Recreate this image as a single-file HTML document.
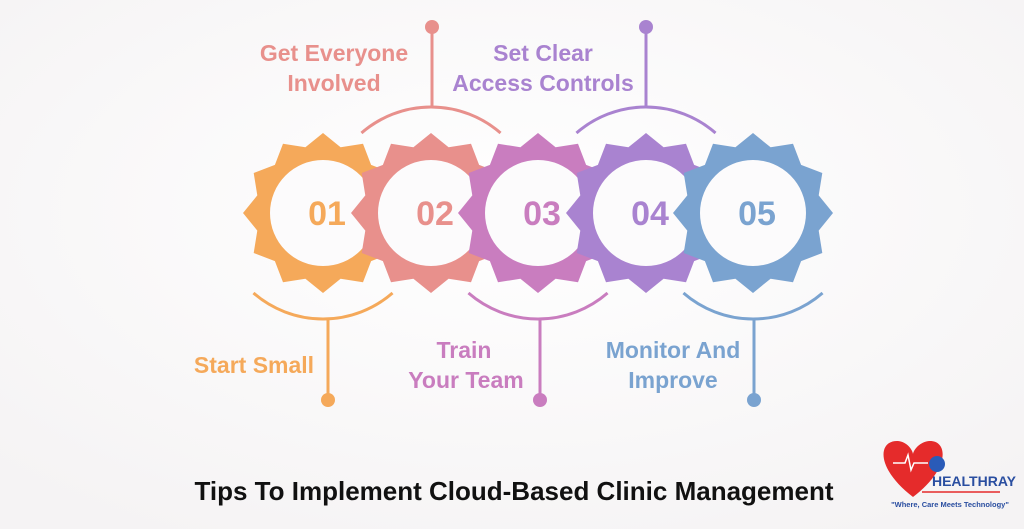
<!DOCTYPE html>
<html><head><style>
html,body{margin:0;padding:0;background:#fbfafb;}
body{width:1024px;height:529px;overflow:hidden;position:relative;font-family:"Liberation Sans",sans-serif;}
</style></head><body>
<svg id="s" width="1024" height="529" viewBox="0 0 1024 529" xmlns="http://www.w3.org/2000/svg" style="position:absolute;left:0;top:0">
<defs>
<radialGradient id="bg" cx="0.5" cy="0.4" r="0.7"><stop offset="0" stop-color="#ffffff"/><stop offset="1" stop-color="#f5f3f4"/></radialGradient>
</defs>
<rect width="1024" height="529" fill="url(#bg)"/>
<g id="arcs" fill="none" stroke-width="3"></g>
<g id="gears"></g>
<g font-weight="bold" font-size="23" text-anchor="middle">
<text x="334" y="61" fill="#e8908c">Get Everyone</text>
<text x="334" y="91" fill="#e8908c">Involved</text>
<text x="543" y="61" fill="#a983d0">Set Clear</text>
<text x="543" y="91" fill="#a983d0">Access Controls</text>
<text x="254" y="373" fill="#f5a95a">Start Small</text>
<text x="464" y="358" fill="#c97dbf">Train</text>
<text x="466" y="388" fill="#c97dbf">Your Team</text>
<text x="673" y="358" fill="#7aa3d0">Monitor And</text>
<text x="673" y="388" fill="#7aa3d0">Improve</text>
</g>
<text x="514" y="500" text-anchor="middle" font-weight="bold" font-size="26" fill="#111">Tips To Implement Cloud-Based Clinic Management</text>
<g>
<path d="M913 497 C 875 468, 878 440, 898 441 C 907 442, 912 449, 913 454 C 914 449, 920 442, 929 441 C 948 440, 951 468, 913 497 Z" fill="#e52b2b"/>
<circle cx="937" cy="464" r="8" fill="#2a5bb8"/>
<polyline points="893,463 905,463 908,455 911,470 914,463 928,463" fill="none" stroke="#fff" stroke-width="1.5"/>
<text x="974" y="486" text-anchor="middle" font-weight="bold" font-size="14" fill="#2a4ea0">HEALTHRAY</text>
<line x1="922" y1="492" x2="1000" y2="492" stroke="#e52b2b" stroke-width="1.5"/>
<text x="950" y="507" text-anchor="middle" font-weight="bold" font-size="7.5" fill="#2a4ea0">"Where, Care Meets Technology"</text>
</g>
</svg>
<script>
var cols=["#f5a95a","#e8908c","#c97dbf","#a983d0","#7aa3d0"];
var cx=[323,431,538,646,753],lx=[328,432,540,646,754],cy=213;
var g=document.getElementById("gears"),a=document.getElementById("arcs");
var ns="http://www.w3.org/2000/svg";
for(var i=0;i<5;i++){
 var pts=[];
 for(var k=0;k<24;k++){var ang=(k*15-90)*Math.PI/180;var r=k%2?68:80;pts.push((cx[i]+r*Math.cos(ang)).toFixed(1)+","+(cy+r*Math.sin(ang)).toFixed(1));}
 var p=document.createElementNS(ns,"polygon");p.setAttribute("points",pts.join(" "));p.setAttribute("fill",cols[i]);g.appendChild(p);
 var c=document.createElementNS(ns,"circle");c.setAttribute("cx",cx[i]);c.setAttribute("cy",cy);c.setAttribute("r",53);c.setAttribute("fill","#fcfbfc");g.appendChild(c);
 var t=document.createElementNS(ns,"text");t.setAttribute("x",cx[i]+4);t.setAttribute("y",cy+12);t.setAttribute("text-anchor","middle");t.setAttribute("font-weight","bold");t.setAttribute("font-size","34");t.setAttribute("fill",cols[i]);t.textContent="0"+(i+1);g.appendChild(t);
 var up=(i%2==1), R=106, s=Math.sin(41*Math.PI/180)*R, co=Math.cos(41*Math.PI/180)*R;
 var ay=up?cy-co:cy+co;
 var pa=document.createElementNS(ns,"path");
 pa.setAttribute("d","M"+(cx[i]-s)+","+ay+" A"+R+","+R+" 0 0 "+(up?1:0)+" "+(cx[i]+s)+","+ay);
 pa.setAttribute("stroke",cols[i]);a.appendChild(pa);
 var ln=document.createElementNS(ns,"line");ln.setAttribute("x1",lx[i]);ln.setAttribute("x2",lx[i]);
 ln.setAttribute("y1",up?cy-R:cy+R);ln.setAttribute("y2",up?27:400);ln.setAttribute("stroke",cols[i]);a.appendChild(ln);
 var d=document.createElementNS(ns,"circle");d.setAttribute("cx",lx[i]);d.setAttribute("cy",up?27:400);d.setAttribute("r",7);d.setAttribute("fill",cols[i]);a.appendChild(d);
}
</script>
</body></html>
